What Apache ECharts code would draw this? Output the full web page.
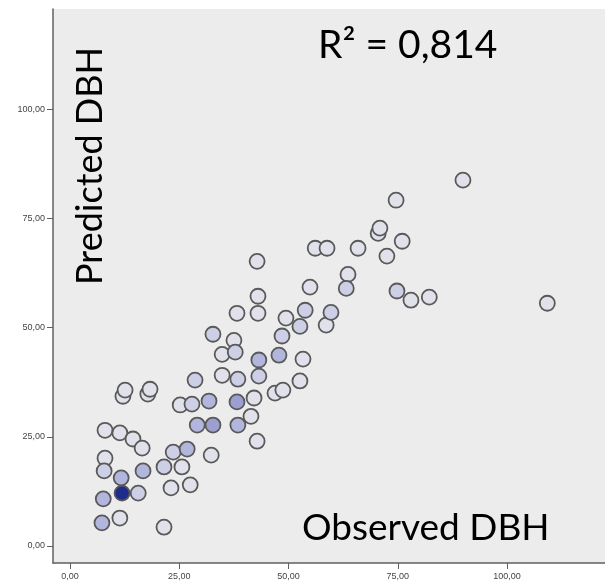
<!DOCTYPE html>
<html>
<head>
<meta charset="utf-8">
<script src="https://cdn.jsdelivr.net/npm/echarts@6/dist/echarts.min.js"></script>
<style>
html,body{margin:0;padding:0;background:#fff;}
#c{width:605px;height:585px;}
</style>
</head>
<body>
<div id="c"></div>
<script>
// Observed DBH (x) and Predicted DBH (y)
var observed = [8.0,11.4,14.4,16.5,8.0,7.8,16.7,11.7,11.9,15.6,7.6,7.3,11.4,21.5,21.5,23.6,25.6,26.8,23.1,27.5,
  32.3,25.2,27.9,31.8,38.2,42.1,38.4,41.4,42.8,32.7,29.1,46.9,48.7,12.1,12.6,17.8,18.3,28.6,34.8,38.4,
  43.2,52.6,32.7,37.5,34.8,37.8,43.2,47.8,48.5,53.3,38.2,43.0,49.4,53.8,52.6,59.7,58.6,42.8,43.0,56.1,
  58.8,65.9,70.5,70.9,76.0,72.5,63.6,63.2,54.9,74.8,78.0,82.2,89.9,74.6,109.2];
var predicted = [26.5,25.9,24.5,22.4,20.1,17.2,17.2,15.6,12.1,12.1,10.8,5.3,6.4,4.3,18.1,21.5,18.1,22.2,13.3,14.0,
  20.8,32.3,32.5,33.2,33.0,33.9,27.7,29.7,24.0,27.7,27.7,35.0,35.7,34.3,35.7,34.8,35.9,38.0,39.1,38.2,
  38.9,37.8,48.5,47.1,43.9,44.4,42.6,43.7,48.1,42.8,53.3,53.3,52.2,54.0,50.3,53.5,50.6,65.2,57.2,68.2,
  68.2,68.2,71.6,72.8,69.8,66.4,62.2,59.0,59.3,58.4,56.3,57.0,83.8,79.2,55.6];
// overlap density level of each marker (0 = single point ... 4 = many)
var density = [0,0,0,0,0,1,2,2,4,1,2,2,0,0,1,1,0,2,0,0,
  0,0,1,2,3,0,2,0,0,3,2,0,0,0,0,0,0,1,0,1,
  1,0,1,0,0,1,2,2,1,0,0,0,0,1,1,1,0,0,0,0,
  0,0,0,0,0,0,0,1,0,1,0,0,0,0,0];
var xTicks = [0,25,50,75,100];
var yTicks = [0,25,50,75,100];

var fills = ['#e0e1ea','#cdcfe6','#b3b6dc','#9c9fd0','#1e2c8c'];

var pts = [];
for (var i = 0; i < observed.length; i++) {
  pts.push({value:[observed[i], predicted[i]], z: density[i],
    itemStyle:{color: fills[density[i]]}});
}
pts.sort(function(a,b){return a.z-b.z;});

function fmt(v){ return v.toFixed(2).replace('.', ','); }

var chart = echarts.init(document.getElementById('c'), null, {renderer:'canvas'});
chart.setOption({
  animation:false,
  backgroundColor:'#ffffff',
  grid:{left:53,right:0,top:9,bottom:22,show:true,backgroundColor:'#ececec',borderWidth:0},
  xAxis:{
    type:'value', min:-3.9, max:122.4,
    splitLine:{show:false},
    axisLine:{show:true,onZero:false,lineStyle:{color:'#606060',width:1.5}},
    axisTick:{show:true,length:6,customValues:xTicks,lineStyle:{color:'#606060'}},
    axisLabel:{customValues:xTicks,formatter:fmt,fontSize:9,color:'#444',margin:9,fontFamily:'Liberation Sans'}
  },
  yAxis:{
    type:'value', min:-3.9, max:123.0,
    splitLine:{show:false},
    axisLine:{show:true,onZero:false,lineStyle:{color:'#606060',width:1.5}},
    axisTick:{show:true,length:6,customValues:yTicks,lineStyle:{color:'#606060'}},
    axisLabel:{customValues:yTicks,formatter:fmt,fontSize:9,color:'#444',margin:8,fontFamily:'Liberation Sans'}
  },
  series:[{
    type:'scatter',
    symbol:'circle',
    symbolSize:15,
    data:pts,
    itemStyle:{borderColor:'#595959',borderWidth:1.8,opacity:1}
  }],
  graphic:[
    {type:'text',x:318,y:65,style:{text:'R² = 0,814',fontSize:39,fontFamily:'Lato',fill:'#000',textVerticalAlign:'bottom',textAlign:'left'}},
    {type:'text',x:302,y:547,style:{text:'Observed DBH',fontSize:37,fontFamily:'Lato',fill:'#000',textVerticalAlign:'bottom',textAlign:'left'}},
    {type:'text',x:90,y:166,rotation:Math.PI/2,style:{text:'Predicted DBH',fontSize:36,fontFamily:'Lato',fill:'#000',textVerticalAlign:'middle',textAlign:'center'}}
  ]
});
</script>
</body>
</html>
